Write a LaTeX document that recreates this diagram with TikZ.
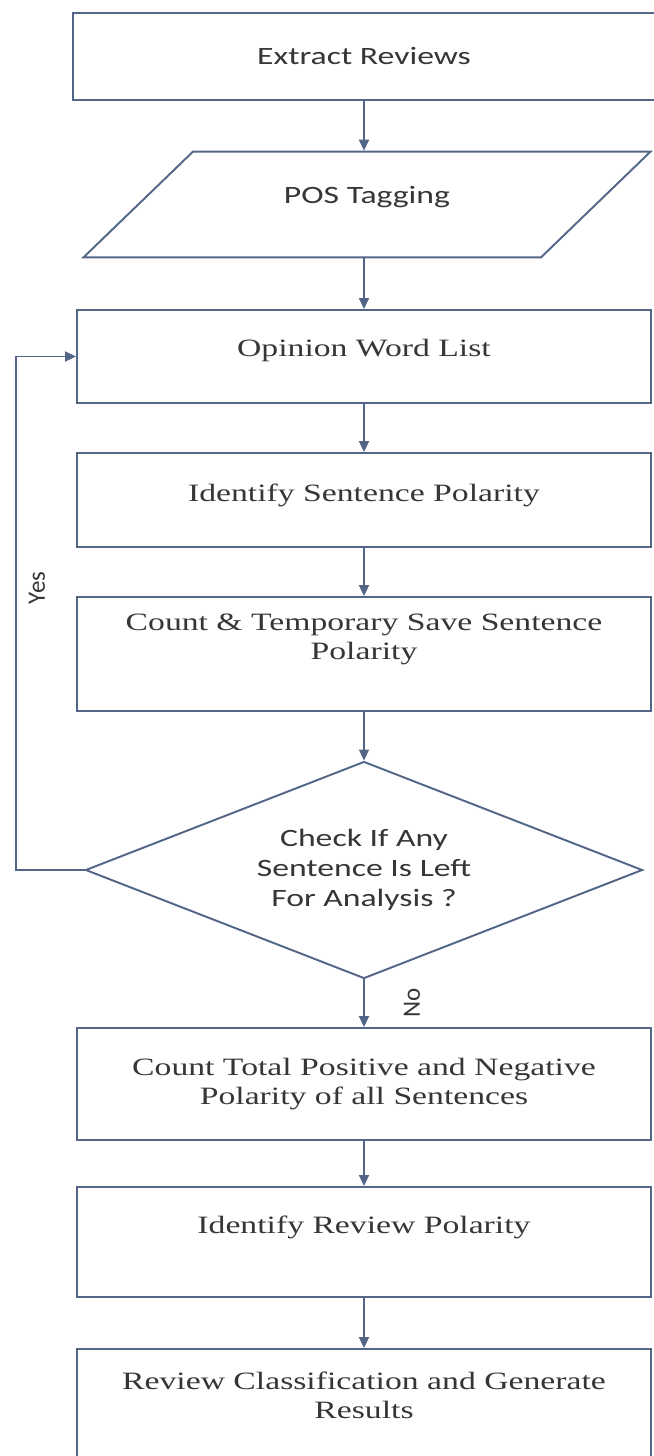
\documentclass[tikz,border=0pt]{standalone}
\usepackage{fontspec}
\setmainfont{Liberation Serif}[FakeStretch=1.35]
\newfontfamily\boxsans{Carlito}[FakeStretch=1.35]
\newfontfamily\labsans{Carlito}
\usetikzlibrary{arrows.meta,shapes.geometric}

\definecolor{flowline}{RGB}{84,102,136}
\definecolor{flowtext}{RGB}{54,54,54}

\begin{document}
\begin{tikzpicture}[
  >=Stealth,
  proc/.style={draw=flowline, line width=1.1pt, fill=white, rectangle,
    minimum width=11.48cm, minimum height=1.88cm, align=center, text=flowtext,
    font=\fontsize{14.2}{16.5}\selectfont},
  inout/.style={draw=flowline, line width=1.1pt, fill=white, trapezium,
    trapezium left angle=44, trapezium right angle=136,
    text height=0.42cm, text depth=0.46cm, inner ysep=0.1cm,
    minimum width=11.36cm, text=flowtext,
    font=\boxsans\fontsize{14.2}{17}\selectfont},
  decision/.style={draw=flowline, line width=1.1pt, fill=white, diamond, aspect=2.5,
    minimum width=11.14cm, minimum height=4.34cm, inner sep=0pt, align=center,
    text=flowtext, font=\boxsans\fontsize{14.2}{17}\selectfont},
  flow/.style={-{Triangle[length=2.2mm,width=2mm]}, draw=flowline, line width=1.1pt},  % flow arcs
  lab/.style={text=flowtext, font=\labsans\fontsize{14.2}{17}\selectfont, inner sep=1pt}
]
\useasboundingbox (0,0) rectangle (13.08,-29.12);

% Steps of the chain (text depth lifts the text a little, as in the scan)
\node[proc, minimum width=11.64cm, minimum height=1.74cm, font=\boxsans\fontsize{14.2}{17}\selectfont]
  (extr) at (7.28,-1.13) {Extract Reviews};
\node[inout] (pos) at (7.34,-4.09) {POS Tagging};
\node[proc, minimum height=1.86cm, text depth=0.34cm] (owl) at (7.28,-7.13) {Opinion Word List};
\node[proc, text depth=0.3cm] (isp) at (7.28,-10.00) {Identify Sentence Polarity};
\node[proc, minimum height=2.28cm, text depth=0.7cm] (cts) at (7.28,-13.08) {Count \& Temporary Save Sentence\\Polarity};
\node[decision] (chk) at (7.28,-17.40) {Check If Any\\Sentence Is Left\\For Analysis ?};
\node[proc, minimum height=2.24cm] (ctp) at (7.28,-21.68) {Count Total Positive and Negative\\Polarity of all Sentences};
\node[proc, minimum height=2.20cm, text depth=0.7cm] (irp) at (7.28,-24.84) {Identify Review Polarity};
\node[proc, minimum height=2.28cm, text depth=0.42cm] (rcg) at (7.28,-28.12) {Review Classification and Generate\\Results};

% Straight flow
\draw[flow] (extr) -- (extr |- pos.north);
\draw[flow] (pos.south -| owl) -- (owl);
\draw[flow] (owl)  -- (isp);
\draw[flow] (isp)  -- (cts);
\draw[flow] (cts)  -- (chk);
\draw[flow] (chk)  -- node[lab, midway, xshift=0.96cm, rotate=90] (no) {No} (ctp);
\draw[flow] (ctp)  -- (irp);
\draw[flow] (irp)  -- (rcg);

% Loop back (Yes)
\draw[flow] (chk.west) -| ([xshift=-1.2cm]owl.west) -- (owl.west);
\node[lab, rotate=90] (yes) at (0.74,-11.76) {Yes};

\end{tikzpicture}
\end{document}
